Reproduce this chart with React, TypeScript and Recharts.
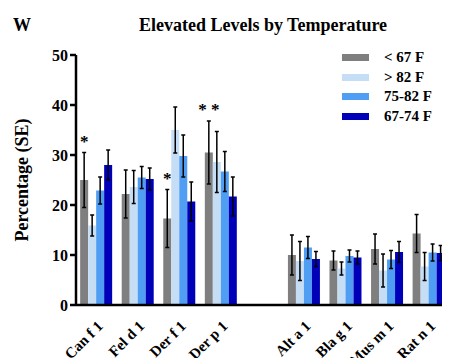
import React from 'react'
import { BarChart, Bar, XAxis, YAxis, ErrorBar, LabelList } from 'recharts'

const categories = ['Can f 1', 'Fel d 1', 'Der f 1', 'Der p 1', '', 'Alt a 1', 'Bla g 1', 'Mus m 1', 'Rat n 1']
const below67 = [25, 22.2, 17.3, 30.5, null, 10, 8.9, 11.2, 14.3]
const below67Se = [5.5, 4.8, 5.8, 6.3, null, 4, 1.9, 3, 3.8]
const above82 = [15.9, 23.6, 35, 28.6, null, 8.8, 7.3, 6.9, 7.7]
const above82Se = [2.1, 3.3, 4.6, 6.1, null, 3.9, 1.3, 3.3, 2.8]
const range7582 = [22.9, 25.5, 29.8, 26.7, null, 11.5, 9.8, 9.1, 10.5]
const range7582Se = [2.7, 2.2, 4.2, 4, null, 2.2, 1.2, 1.8, 1.7]
const range6774 = [28, 25.2, 20.7, 21.7, null, 9.2, 9.5, 10.6, 10.4]
const range6774Se = [3, 2.2, 3.9, 3.9, null, 1.5, 1.3, 2.1, 1.5]
const stars = ['*', '', '*', '* *', '', '', '', '', '']
const yTicks = [0, 10, 20, 30, 40, 50]

const series = [
  { key: 'b67', err: 'b67Se', name: '< 67 F', color: '#7f7f7f' },
  { key: 'a82', err: 'a82Se', name: '> 82 F', color: '#c6ddf6' },
  { key: 'r7582', err: 'r7582Se', name: '75-82 F', color: '#4f9ef4' },
  { key: 'r6774', err: 'r6774Se', name: '67-74 F', color: '#0000b8' },
]

const data = categories.map((name, i) => ({
  name,
  b67: below67[i], b67Se: below67Se[i],
  a82: above82[i], a82Se: above82Se[i],
  r7582: range7582[i], r7582Se: range7582Se[i],
  r6774: range6774[i], r6774Se: range6774Se[i],
  star: stars[i],
}))

const font = '"Liberation Serif", "Times New Roman", serif'

// rotated category labels, anchored at their end just under the axis
const XTick = (props: any) => {
  const { x, y, payload } = props
  if (!payload.value) return null
  const tx = x + 7
  const ty = y + 14
  return (
    <text x={tx} y={ty} transform={`rotate(-45 ${tx} ${ty})`} textAnchor="end"
      fontFamily={font} fontWeight="bold" fontSize={15} fill="#000">
      {payload.value}
    </text>
  )
}

// significance stars sit just above the top of the gray bar's error bar
const StarLabel = (props: any) => {
  const { x, y, width, height, value, index } = props
  if (!value) return null
  const v = below67[index] as number
  const errTop = y - (below67Se[index] as number) * (height / v)
  return (
    <text x={x + width / 2} y={errTop - 6} textAnchor="middle" fontFamily={font}
      fontWeight="bold" fontSize={17} fill="#000">
      {value}
    </text>
  )
}

const LegendBox = () => (
  <div style={{ position: 'absolute', top: 40, left: 334, width: 110, fontFamily: font, fontWeight: 'bold', fontSize: 15 }}>
    {series.map((s) => (
      <div key={s.key} style={{ display: 'flex', alignItems: 'center', height: 19.5 }}>
        <span style={{ display: 'inline-block', width: 27, height: 7, background: s.color, marginRight: 15 }} />
        <span>{s.name}</span>
      </div>
    ))}
  </div>
)

export default function App() {
  return (
    <div style={{ position: 'relative', width: 442, height: 350, fontFamily: font }}>
      <div style={{ position: 'absolute', left: 5, top: 7, fontSize: 18, fontWeight: 'bold' }}>W</div>
      <div style={{ position: 'absolute', left: 0, width: 510, top: 7, textAlign: 'center', fontSize: 18, fontWeight: 'bold' }}>
        Elevated Levels by Temperature
      </div>
      <BarChart width={442} height={350} data={data} barCategoryGap="10%" barGap={0}
        margin={{ top: 47, right: 0, left: 0, bottom: 23 }}>
        <XAxis dataKey="name" tick={<XTick />} tickLine={false} interval={0} height={30}
          axisLine={{ stroke: '#000', strokeWidth: 2.5 }} />
        <YAxis domain={[0, 50]} ticks={yTicks} width={68} tickSize={6}
          axisLine={{ stroke: '#000', strokeWidth: 2.5 }} tickLine={{ stroke: '#000', strokeWidth: 2.5 }}
          tick={{ fill: '#000', fontSize: 16, fontWeight: 'bold', fontFamily: font }}
          label={{ value: 'Percentage (SE)', angle: -90, position: 'insideLeft', dx: 9,
            style: { textAnchor: 'middle', fill: '#000', fontSize: 18, fontWeight: 'bold', fontFamily: font } }} />
        {series.map((s) => (
          <Bar key={s.key} dataKey={s.key} name={s.name} fill={s.color} isAnimationActive={false}>
            <ErrorBar dataKey={s.err} stroke="#000" strokeWidth={1.5} width={2} />
            {s.key === 'b67' && <LabelList dataKey="star" content={<StarLabel />} />}
          </Bar>
        ))}
      </BarChart>
      <LegendBox />
    </div>
  )
}
